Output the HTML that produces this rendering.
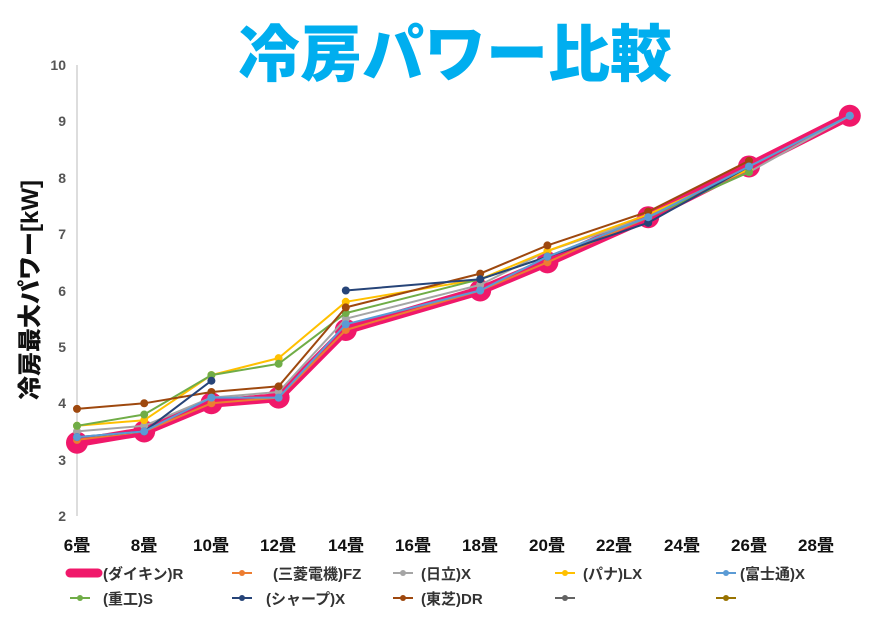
<!DOCTYPE html>
<html><head><meta charset="utf-8"><style>
html,body{margin:0;padding:0;background:#fff;}
body{width:876px;height:617px;overflow:hidden;font-family:"Liberation Sans","Noto Sans CJK JP",sans-serif;}
</style></head><body>
<svg id="s" width="876" height="617" xmlns="http://www.w3.org/2000/svg" font-family="Liberation Sans, Noto Sans CJK JP, sans-serif">
<text x="455" y="76" text-anchor="middle" font-size="62" font-weight="900" fill="#00AEEF">冷房パワー比較</text>
<text transform="translate(38,290) rotate(-90)" text-anchor="middle" font-size="24" font-weight="900" fill="#111">冷房最大パワー[kW]</text>
<line x1="77" y1="65" x2="77" y2="516" stroke="#bbb" stroke-width="1"/>
<g font-size="14" font-weight="bold" fill="#555" text-anchor="end">
<text x="66" y="70">10</text><text x="66" y="126">9</text><text x="66" y="183">8</text><text x="66" y="239">7</text><text x="66" y="296">6</text><text x="66" y="352">5</text><text x="66" y="408">4</text><text x="66" y="465">3</text><text x="66" y="521">2</text>
</g>
<g font-size="17" font-weight="bold" fill="#111" text-anchor="middle">
<text x="77" y="551">6畳</text><text x="144" y="551">8畳</text><text x="211" y="551">10畳</text><text x="278" y="551">12畳</text><text x="346" y="551">14畳</text><text x="413" y="551">16畳</text><text x="480" y="551">18畳</text><text x="547" y="551">20畳</text><text x="614" y="551">22畳</text><text x="682" y="551">24畳</text><text x="749" y="551">26畳</text><text x="816" y="551">28畳</text>
</g>
<g id="series"></g>
<g font-size="15" font-weight="bold" fill="#333">
<line x1="70" y1="573" x2="98" y2="573" stroke="#F0186A" stroke-width="9" stroke-linecap="round"/><text x="103" y="579">(ダイキン)R</text>
<line x1="232" y1="573" x2="252" y2="573" stroke="#ED7D31" stroke-width="2"/><circle cx="242" cy="573" r="3" fill="#ED7D31"/><text x="273" y="579">(三菱電機)FZ</text>
<line x1="393" y1="573" x2="413" y2="573" stroke="#A5A5A5" stroke-width="2"/><circle cx="403" cy="573" r="3" fill="#A5A5A5"/><text x="421" y="579">(日立)X</text>
<line x1="555" y1="573" x2="575" y2="573" stroke="#FFC000" stroke-width="2"/><circle cx="565" cy="573" r="3" fill="#FFC000"/><text x="583" y="579">(パナ)LX</text>
<line x1="716" y1="573" x2="736" y2="573" stroke="#5B9BD5" stroke-width="2"/><circle cx="726" cy="573" r="3" fill="#5B9BD5"/><text x="740" y="579">(富士通)X</text>
<line x1="70" y1="598" x2="90" y2="598" stroke="#70AD47" stroke-width="2"/><circle cx="80" cy="598" r="3" fill="#70AD47"/><text x="103" y="604">(重工)S</text>
<line x1="232" y1="598" x2="252" y2="598" stroke="#264478" stroke-width="2"/><circle cx="242" cy="598" r="3" fill="#264478"/><text x="266" y="604">(シャープ)X</text>
<line x1="393" y1="598" x2="413" y2="598" stroke="#9E480E" stroke-width="2"/><circle cx="403" cy="598" r="3" fill="#9E480E"/><text x="421" y="604">(東芝)DR</text>
<line x1="555" y1="598" x2="575" y2="598" stroke="#636363" stroke-width="2"/><circle cx="565" cy="598" r="3" fill="#636363"/>
<line x1="716" y1="598" x2="736" y2="598" stroke="#997300" stroke-width="2"/><circle cx="726" cy="598" r="3" fill="#997300"/>
</g>
</svg>
<script>
var X=[6,8,10,12,14,18,20,23,26,29];
function px(n){return 77+(n-6)*33.6;}
function py(v){return 516-(v-2)*56.375;}
var S=[
["#F0186A",[3.3,3.5,4.0,4.1,5.3,6.0,6.5,7.3,8.2,9.1],9,11],
["#ED7D31",[3.35,3.5,4.0,4.1,5.3,6.0,6.5,7.3,8.2,9.1],2,4],
["#A5A5A5",[3.5,3.6,4.1,4.2,5.5,6.1,6.7,7.3,8.1,9.1],2,4],
["#FFC000",[3.6,3.7,4.5,4.8,5.8,6.2,6.7,7.35,8.15,null],2,4],
["#70AD47",[3.6,3.8,4.5,4.7,5.6,6.2,6.6,7.3,8.1,null],2,4],
["#9E480E",[3.9,4.0,4.2,4.3,5.7,6.3,6.8,7.4,8.3,null],2,4],
["#264478",[3.4,3.5,4.4,null,6.0,6.2,6.6,7.2,8.2,null],2,4],
["#5B9BD5",[3.4,3.5,4.1,4.1,5.4,6.0,6.6,7.3,8.2,9.1],2,4]
];
var g=document.getElementById("series"),h="";
S.forEach(function(s){
 var segs=[],cur=[];
 s[1].forEach(function(v,i){if(v===null){if(cur.length)segs.push(cur);cur=[];}else cur.push(px(X[i]).toFixed(1)+","+py(v).toFixed(1));});
 if(cur.length)segs.push(cur);
 segs.forEach(function(c){h+='<polyline points="'+c.join(" ")+'" fill="none" stroke="'+s[0]+'" stroke-width="'+s[2]+'" stroke-linejoin="round"/>';});
 s[1].forEach(function(v,i){if(v!==null)h+='<circle cx="'+px(X[i])+'" cy="'+py(v)+'" r="'+s[3]+'" fill="'+s[0]+'"/>';});
});
g.innerHTML=h;
</script>
</body></html>
